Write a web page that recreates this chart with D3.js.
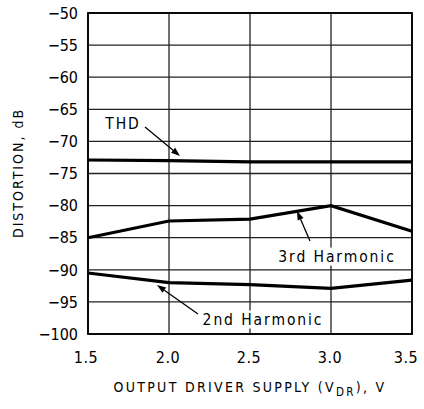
<!DOCTYPE html>
<html>
<head>
<meta charset="utf-8">
<script src="https://cdn.jsdelivr.net/npm/d3@7"></script>
<style>
  html, body { margin: 0; padding: 0; background: #fff; }
  svg { display: block; }
  text { font-family: "DejaVu Sans Condensed", "DejaVu Sans", sans-serif; font-stretch: condensed; fill: #000; }
</style>
</head>
<body>
<svg id="chart" width="424" height="409"></svg>
<script>
// Supply voltage (V) at which distortion was measured
const supply = [1.5, 2.0, 2.5, 3.0, 3.5];
// Distortion in dB for each measurement point
const thd = [-72.9, -73.0, -73.2, -73.2, -73.2];
const harmonic3 = [-85.0, -82.4, -82.1, -80.0, -84.0];
const harmonic2 = [-90.5, -92.0, -92.3, -92.9, -91.6];
// Axis ticks
const xTicks = [1.5, 2.0, 2.5, 3.0, 3.5];
const yTicks = [-50, -55, -60, -65, -70, -75, -80, -85, -90, -95, -100];

const svg = d3.select("#chart");
const plotL = 88, plotR = 412, plotT = 13, plotB = 334;

const x = d3.scaleLinear().domain([1.5, 3.5]).range([plotL, plotR]);
const y = d3.scaleLinear().domain([-100, -50]).range([plotB, plotT]);

// Grid
const grid = svg.append("g");
grid.selectAll("line.h").data(yTicks).join("line")
  .attr("x1", plotL).attr("x2", plotR)
  .attr("y1", d => y(d)).attr("y2", d => y(d))
  .attr("stroke", "#222").attr("stroke-width", 1.3);
grid.selectAll("line.v").data(xTicks).join("line")
  .attr("y1", plotT).attr("y2", plotB)
  .attr("x1", d => x(d)).attr("x2", d => x(d))
  .attr("stroke", "#222").attr("stroke-width", 1.3);

// Frame
svg.append("rect").attr("x", plotL).attr("y", plotT)
  .attr("width", plotR - plotL).attr("height", plotB - plotT)
  .attr("fill", "none").attr("stroke", "#000").attr("stroke-width", 1.8);

// Tick labels
const fmtY = d => "\u2212" + Math.abs(d);
svg.append("g").selectAll("text").data(yTicks).join("text")
  .attr("x", 78).attr("y", d => y(d)).attr("dy", "0.36em")
  .attr("text-anchor", "end").attr("font-size", 16)
  .text(fmtY);
svg.append("g").selectAll("text").data(xTicks).join("text")
  .attr("x", (d, i) => x(d) + (i === 0 ? -2 : i === xTicks.length - 1 ? -6 : -1))
  .attr("y", 363)
  .attr("text-anchor", "middle").attr("font-size", 16)
  .style("letter-spacing", "0.5px")
  .text(d => d3.format(".1f")(d));

// Axis titles
const xt = svg.append("text").attr("x", 250).attr("y", 392)
  .attr("text-anchor", "middle").attr("font-size", 14)
  .style("letter-spacing", "2.3px");
xt.append("tspan").text("OUTPUT DRIVER SUPPLY (V");
xt.append("tspan").attr("dy", 4).attr("font-size", 11.5).text("DR");
xt.append("tspan").attr("dy", -4).text("), V");

svg.append("text")
  .attr("transform", "translate(23,173) rotate(-90)")
  .attr("text-anchor", "middle").attr("font-size", 14)
  .style("letter-spacing", "2px")
  .text("DISTORTION, dB");

// Series lines
const line = d3.line().x((d, i) => x(supply[i])).y(d => y(d));
[thd, harmonic3, harmonic2].forEach(s => {
  svg.append("path").datum(s).attr("d", line)
    .attr("fill", "none").attr("stroke", "#000")
    .attr("stroke-width", 3.2).attr("stroke-linejoin", "miter");
});

// Callout labels with arrows
function arrow(x1, y1, x2, y2) {
  const ang = Math.atan2(y2 - y1, x2 - x1);
  const len = 9, w = 3.2;
  const bx = x2 - len * Math.cos(ang), by = y2 - len * Math.sin(ang);
  svg.append("line").attr("x1", x1).attr("y1", y1).attr("x2", bx).attr("y2", by)
    .attr("stroke", "#000").attr("stroke-width", 1.3);
  const px = -Math.sin(ang) * w, py = Math.cos(ang) * w;
  svg.append("path")
    .attr("d", `M${x2},${y2}L${bx + px},${by + py}L${bx - px},${by - py}Z`)
    .attr("fill", "#000");
}
function label(txt, cx, cy) {
  const t = svg.append("text").attr("x", cx).attr("y", cy).attr("dy", "0.36em")
    .attr("text-anchor", "middle").attr("font-size", 15.5)
    .style("letter-spacing", "1.9px").text(txt);
  const b = t.node().getBBox();
  svg.insert("rect", () => t.node())
    .attr("x", b.x - 3).attr("y", b.y).attr("width", b.width + 6).attr("height", b.height)
    .attr("fill", "#fff");
}

label("THD", 123, 123);
arrow(145, 127, 180, 156);

label("3rd Harmonic", 337, 256);
arrow(310, 241, 297, 211);

label("2nd Harmonic", 263, 319);
arrow(198, 314, 157, 285);
</script>
</body>
</html>
